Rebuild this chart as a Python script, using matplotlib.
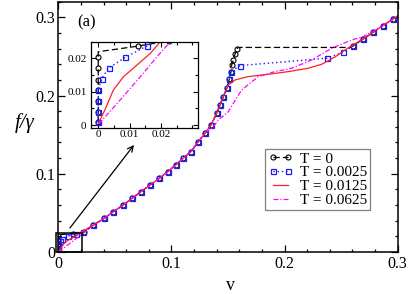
import numpy as np
import matplotlib
matplotlib.use("Agg")
import matplotlib.pyplot as plt
from matplotlib.patches import Rectangle
from matplotlib.ticker import MultipleLocator

plt.rcParams['font.family'] = 'serif'
plt.rcParams['font.serif'] = ['Liberation Serif', 'DejaVu Serif']

# ---------------- data ----------------
# shared lower branch (v >= 0.022)
low_v = [0.0221, 0.0309, 0.0407, 0.0486, 0.0575, 0.0654, 0.0731, 0.0811, 0.0893,
         0.0967, 0.1038, 0.1105, 0.1173, 0.1238, 0.1297, 0.1350, 0.1400, 0.1430,
         0.1459, 0.1489, 0.1512, 0.1527]
low_f = [0.0257, 0.0345, 0.0431, 0.0516, 0.0601, 0.0687, 0.0771, 0.0857, 0.0942,
         0.1027, 0.1113, 0.1198, 0.1283, 0.1411, 0.1518, 0.1624, 0.1773, 0.1880,
         0.1986, 0.2093, 0.2208, 0.2306]
# shared upper branch
up_v = [0.2697, 0.2785, 0.2868, 0.2962, 0.3050]
up_f = [0.2724, 0.2810, 0.2894, 0.2980, 0.3065]

# T = 0
t0_start_v = [0, 0, 0, 0, 0, 0, 0, 0, 0.0128]
t0_start_f = [0.0008, 0.0040, 0.0073, 0.0104, 0.0136, 0.0169, 0.0202, 0.0219, 0.0236]
t0_jump_v = [0.1533, 0.1547, 0.1562, 0.1577, 0.1590, 0.2575, 0.2608]
t0_jump_f = [0.2392, 0.2455, 0.2528, 0.2592, 0.2615, 0.2615, 0.2638]

# T = 0.0025
t1_start_v = [0, 0, 0, 0, 0.0011, 0.0034, 0.0086, 0.0155]
t1_start_f = [0.0008, 0.0040, 0.0073, 0.0104, 0.0139, 0.0171, 0.0202, 0.0236]
t1_mid_v = [0.1607, 0.2373, 0.2520, 0.2608]
t1_mid_f = [0.2383, 0.2477, 0.2554, 0.2638]

# T = 0.0125
t2_start_v = [0.0002, 0.0021, 0.0048, 0.0080, 0.0123, 0.0166, 0.0198]
t2_start_f = [0.0007, 0.0045, 0.0104, 0.0144, 0.0179, 0.0214, 0.0249]
t2_mid_v = [0.1447, 0.1503, 0.1562, 0.1677, 0.1857, 0.2034, 0.2210, 0.2329,
            0.2447, 0.2535, 0.2608]
t2_mid_f = [0.1944, 0.2136, 0.2199, 0.2242, 0.2272, 0.2306, 0.2349, 0.2400,
            0.2494, 0.2583, 0.2650]

# T = 0.0625
t3_start_v = [0.0002, 0.0070, 0.0134, 0.0187, 0.0230, 0.0309]
t3_start_f = [0.0003, 0.0075, 0.0144, 0.0204, 0.0249, 0.0337]
t3_mid_v = [0.1370, 0.1415, 0.1503, 0.1560, 0.1620, 0.1768, 0.1916, 0.2064,
            0.2240, 0.2417, 0.2594, 0.2697, 0.2874]
t3_mid_f = [0.1602, 0.1688, 0.1794, 0.1930, 0.2070, 0.2242, 0.2306, 0.2349,
            0.2455, 0.2605, 0.2711, 0.2753, 0.2900]

labels = ['T = 0', 'T = 0.0025', 'T = 0.0125', 'T = 0.0625']
main_ticks = [0, 0.1, 0.2, 0.3]
main_ticklabels = ['0', '0.1', '0.2', '0.3']
inset_ticks = [0, 0.01, 0.02]
inset_ticklabels = ['0', '0.01', '0.02']

# ---------------- build series ----------------
t0_v = t0_start_v + [0.0225] + low_v[1:] + t0_jump_v + up_v
t0_f = t0_start_f + [0.0252] + low_f[1:] + t0_jump_f + up_f
t0_nomark = {7, len(t0_start_v) + len(low_v) + 4, len(t0_start_v) + len(low_v) + 5}
t0_marks = [i for i in range(len(t0_v)) if i not in t0_nomark]

t1_v = t1_start_v + low_v + t1_mid_v + up_v
t1_f = t1_start_f + low_f + t1_mid_f + up_f

n_red = low_v.index(0.1430) + 1
t2_v = t2_start_v + low_v[1:n_red] + t2_mid_v + up_v
t2_f = t2_start_f + low_f[1:n_red] + t2_mid_f + up_f

n_mag = low_v.index(0.1297) + 1
t3_v = t3_start_v + low_v[2:n_mag] + t3_mid_v + up_v[3:]
t3_f = t3_start_f + low_f[2:n_mag] + t3_mid_f + up_f[3:]

# ---------------- figure ----------------
fig = plt.figure(figsize=(4.09, 2.94), dpi=100)
ax = fig.add_axes([0.1425, 0.1429, 0.8298, 0.8514])

def draw(a, ms=3.6):
    a.plot(t0_v, t0_f, color='black', ls=(0, (5, 2.5)), lw=0.9, marker='o', ms=ms,
           mfc='none', mec='black', mew=0.8, markevery=t0_marks, label=labels[0])
    a.plot(t1_v, t1_f, color='#1a1aff', ls=(0, (1, 2)), lw=1.0, marker='s', ms=ms,
           mfc='none', mec='#1a1aff', mew=0.9, label=labels[1])
    a.plot(t2_v, t2_f, color='#ff2020', ls='-', lw=0.9, label=labels[2])
    a.plot(t3_v, t3_f, color='#ff00ff', ls=(0, (4, 1.5, 1, 1.5)), lw=0.9, label=labels[3])

draw(ax)
ax.set_xlim(0, 0.3)
ax.set_ylim(0, 0.32)
ax.set_xticks(main_ticks)
ax.set_xticklabels(main_ticklabels)
ax.set_yticks(main_ticks)
ax.set_yticklabels(main_ticklabels)
ax.xaxis.set_minor_locator(MultipleLocator(0.02))
ax.yaxis.set_minor_locator(MultipleLocator(0.02))
ax.tick_params(which='both', direction='in', top=True, right=True, labelsize=11.5)
ax.tick_params(which='major', length=5, width=0.9)
ax.tick_params(which='minor', length=2.5, width=0.9)
ax.tick_params(axis='x', pad=3)
ax.tick_params(axis='y', pad=2)
for s in ax.spines.values():
    s.set_linewidth(1.1)

leg = ax.legend(loc='lower left', bbox_to_anchor=(0.609, 0.168), borderaxespad=0,
                fontsize=11, frameon=True, fancybox=False, framealpha=1,
                edgecolor='#808080', labelspacing=0.0, borderpad=0.2,
                handlelength=1.6, handletextpad=0.5, numpoints=2)
leg.get_frame().set_linewidth(0.9)

ax.text(0.055, 0.917, '(a)', transform=ax.transAxes, fontsize=12, va='center', ha='left')

ax.add_patch(Rectangle((-0.002, 0.0), 0.0232, 0.0239, fill=False, ec='black',
                       lw=1.1, clip_on=False, zorder=5))
ax.annotate('', xy=(0.0669, 0.1368), xytext=(0.0103, 0.0307),
            arrowprops=dict(arrowstyle='->', color='black', lw=0.9, mutation_scale=10,
                            shrinkA=0, shrinkB=0))

fig.text(25 / 409, 1 - 123 / 294, 'f/γ', fontsize=15, style='italic', ha='center', va='center')
fig.text(230 / 409, 1 - 286 / 294, 'v', fontsize=13, ha='center', va='center')

# ---------------- inset ----------------
ins = fig.add_axes([90.7 / 409, 1 - 127.7 / 294, 107 / 409, 86 / 294])
draw(ins)
ins.set_xlim(-0.0024, 0.0317)
ins.set_ylim(-0.0008, 0.0249)
ins.set_xticks(inset_ticks)
ins.set_xticklabels(inset_ticklabels)
ins.set_yticks(inset_ticks)
ins.set_yticklabels(inset_ticklabels)
ins.xaxis.set_minor_locator(MultipleLocator(0.005))
ins.yaxis.set_minor_locator(MultipleLocator(0.005))
ins.tick_params(which='both', direction='in', top=True, right=True, labelsize=8)
ins.tick_params(which='major', length=3.5, width=0.8)
ins.tick_params(which='minor', length=2, width=0.8)
ins.tick_params(axis='x', pad=2)
ins.tick_params(axis='y', pad=3)
for s in ins.spines.values():
    s.set_linewidth(0.9)

fig.savefig('out.png', dpi=100)
